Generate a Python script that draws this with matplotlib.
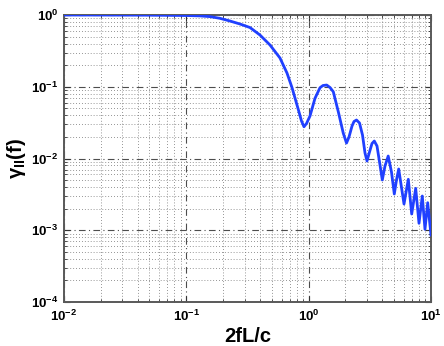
import numpy as np
from matplotlib import pyplot as plt
from matplotlib import ticker

plt.rcParams['mathtext.fontset'] = 'custom'
plt.rcParams['mathtext.rm'] = 'Liberation Sans'
plt.rcParams['mathtext.bf'] = 'Liberation Sans:bold'
plt.rcParams['mathtext.it'] = 'Liberation Sans:italic'
plt.rcParams['font.family'] = ['Liberation Sans', 'DejaVu Sans']

## values
freq = [0.01, 0.02, 0.0505, 0.1, 0.1293, 0.1561, 0.1884, 0.2275, 0.2747,
        0.3315, 0.4002, 0.4831, 0.5831, 0.665, 0.7307, 0.788, 0.8338, 0.874,
        0.916, 0.96, 1.0254, 1.1265, 1.2379, 1.31, 1.4044, 1.495, 1.59,
        1.747, 1.919, 2.039, 2.137, 2.262, 2.348, 2.461, 2.604, 2.755, 2.888,
        2.999, 3.144, 3.294, 3.44, 3.62, 3.83, 3.999, 4.207, 4.469, 4.754,
        5.013, 5.224, 5.445, 6.017, 6.525, 6.955, 7.499, 7.98, 8.49, 8.93,
        9.4, 10.0]
gamma = [1.0, 0.999, 0.995, 0.984, 0.9716, 0.95, 0.8997, 0.825, 0.749,
         0.669, 0.526, 0.382, 0.2516, 0.1555, 0.0976, 0.0623, 0.0445, 0.0333,
         0.0277, 0.0307, 0.0391, 0.069, 0.097, 0.1041, 0.1057, 0.0976, 0.0853,
         0.0449, 0.0225, 0.0164, 0.01995, 0.02838, 0.0328, 0.0344, 0.0313,
         0.02126, 0.01193, 0.00923, 0.01232, 0.01618, 0.01753, 0.01493,
         0.00812, 0.00502, 0.00786, 0.01083, 0.00648, 0.0032, 0.00502,
         0.00714, 0.00232, 0.00513, 0.001684, 0.00384, 0.00125, 0.0030,
         0.00103, 0.00242, 0.00086]

xticks = [1e-2, 1e-1, 1e0, 1e1]
xticklabels = [r'$\mathbf{10^{-2}}$', r'$\mathbf{10^{-1}}$',
               r'$\mathbf{10^{0}}$', r'$\mathbf{10^{1}}$']
yticks = [1e-4, 1e-3, 1e-2, 1e-1, 1e0]
yticklabels = [r'$\mathbf{10^{-4}}$', r'$\mathbf{10^{-3}}$',
               r'$\mathbf{10^{-2}}$', r'$\mathbf{10^{-1}}$',
               r'$\mathbf{10^{0}}$']

fig = plt.figure(figsize=(4.44, 3.46), dpi=100)
ax = fig.add_axes([0.1441, 0.1272, 0.8266, 0.8294])

ax.loglog(freq, gamma, color='#2040ff', lw=2, zorder=3)

ax.set_xlim(1e-2, 1e1)
ax.set_ylim(1e-4, 1e0)

## matlab style grid
ax.grid(True, which='major', color='0.3', linestyle=(0, (6, 3, 1, 3)), lw=0.8)
ax.grid(True, which='minor', color='0.45', linestyle=(0, (1, 2.5)), lw=0.6)

ax.xaxis.set_major_locator(ticker.FixedLocator(xticks))
ax.xaxis.set_major_formatter(ticker.FixedFormatter(xticklabels))
ax.yaxis.set_major_locator(ticker.FixedLocator(yticks))
ax.yaxis.set_major_formatter(ticker.FixedFormatter(yticklabels))
ax.xaxis.set_minor_locator(ticker.LogLocator(base=10, subs=np.arange(2, 10), numticks=20))
ax.yaxis.set_minor_locator(ticker.LogLocator(base=10, subs=np.arange(2, 10), numticks=20))
ax.xaxis.set_minor_formatter(ticker.NullFormatter())
ax.yaxis.set_minor_formatter(ticker.NullFormatter())

ax.tick_params(which='both', direction='in', top=True, right=True,
               labelsize=9.5, color='0.2')
ax.tick_params(which='major', length=4)
ax.tick_params(which='minor', length=2)
ax.tick_params(axis='x', pad=5)
ax.tick_params(axis='y', pad=4)

for s in ax.spines.values():
    s.set_color('0.35')
    s.set_linewidth(1.4)

ax.set_xlabel('2fL/c', fontsize=14.5, fontweight='bold', labelpad=2)
ax.set_ylabel(r'$\mathbf{\gamma_{II}(f)}$', fontsize=14.5, labelpad=2)

fig.savefig('out.png', dpi=100)
